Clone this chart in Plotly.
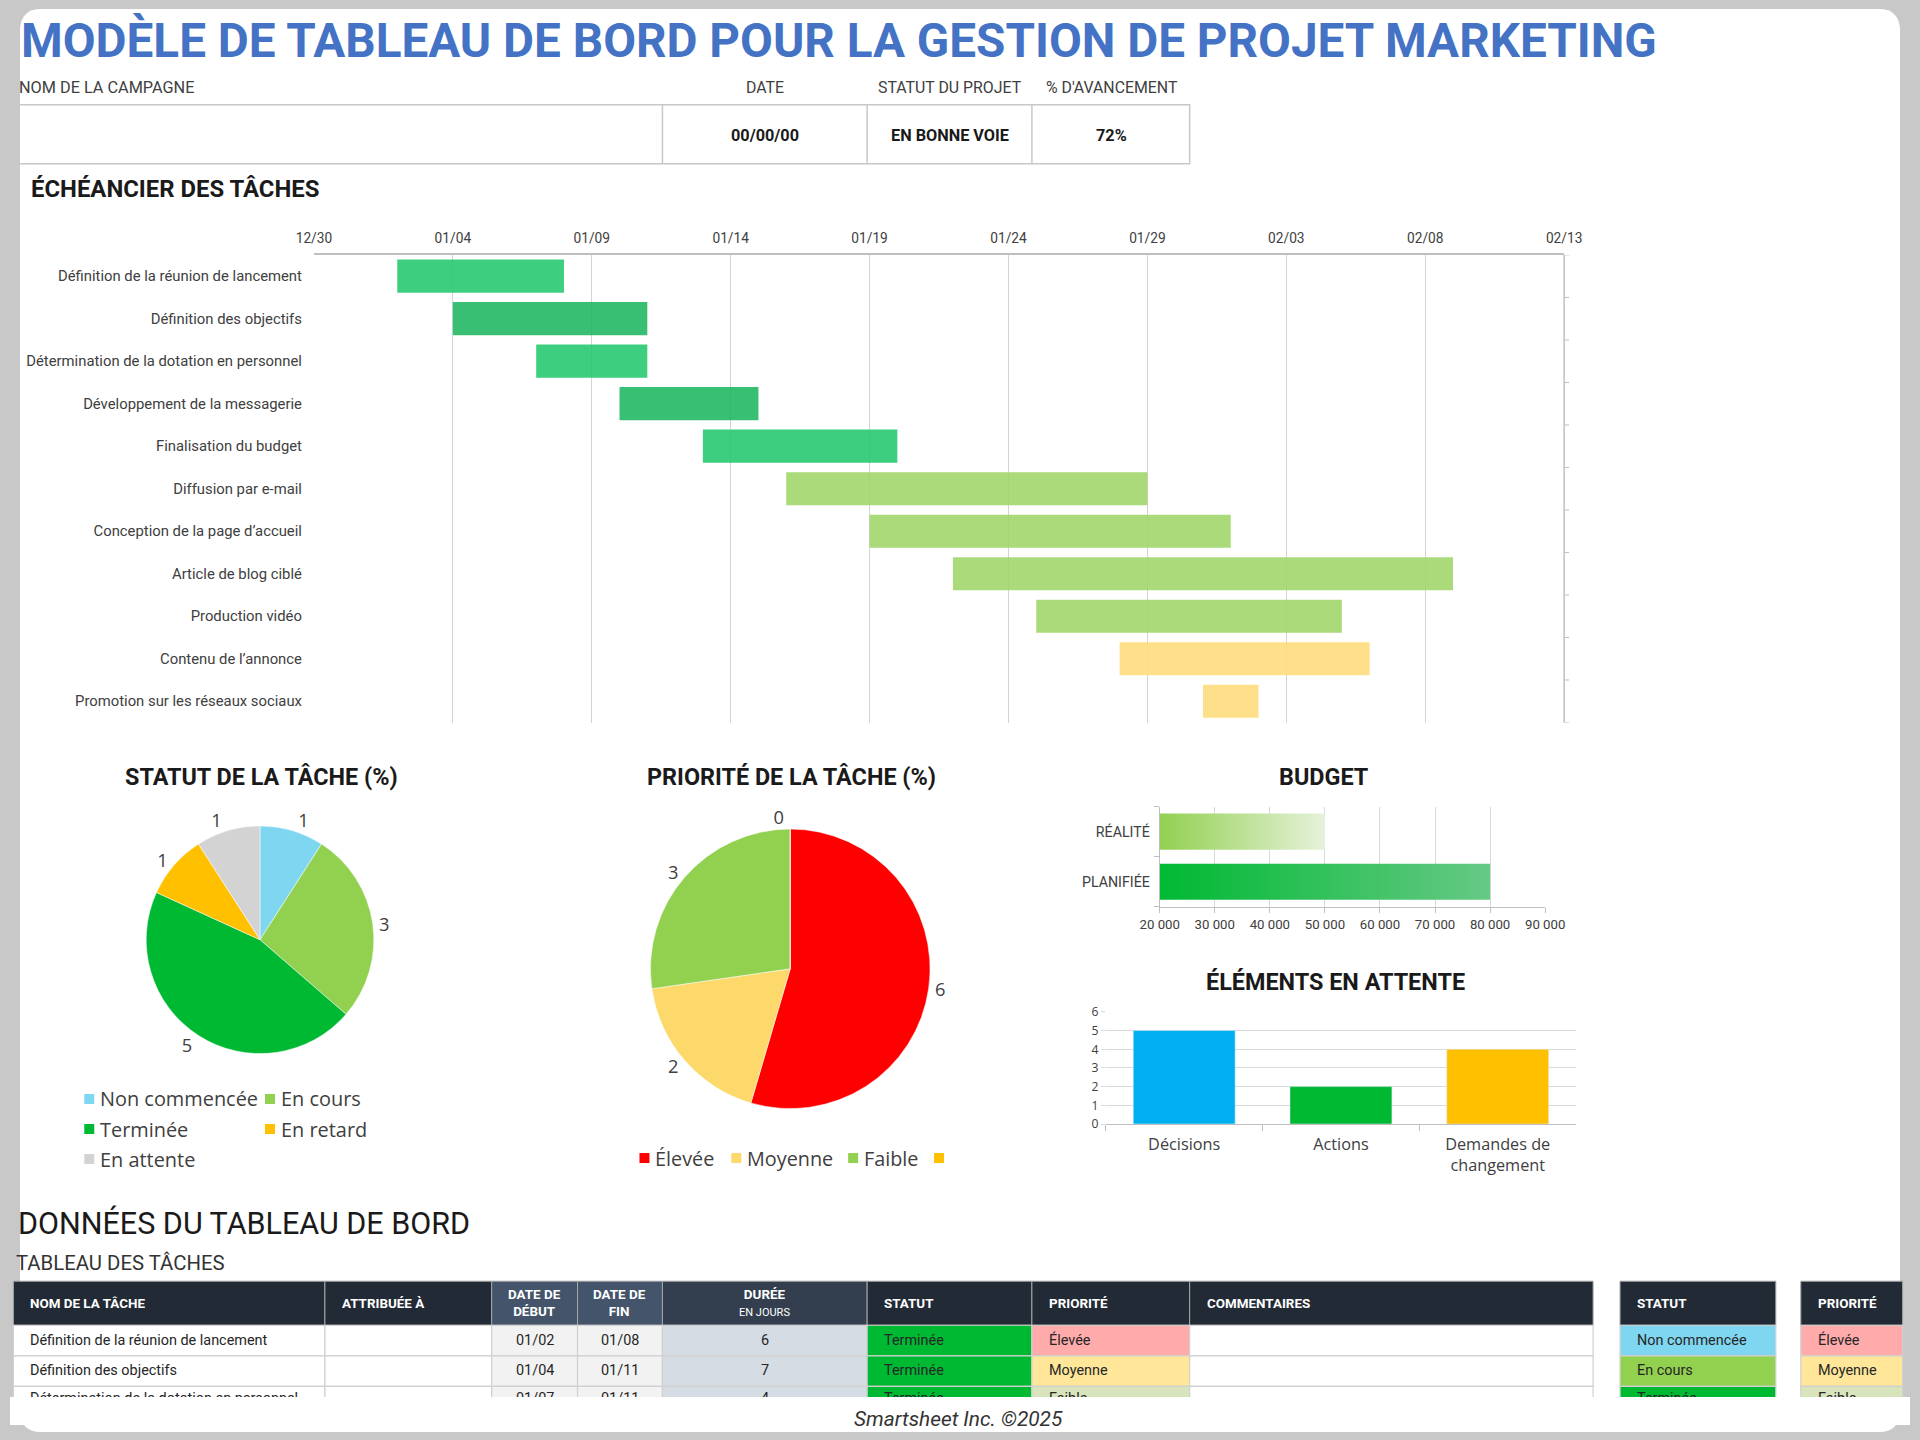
import plotly.graph_objects as go
import pandas as pd

W, H = 1920, 1440
# layout helpers: reference-pixel coordinates -> paper fractions
KX, KY = 1.0198, 1.0132          # small compensation for the page capture margin
KF = (KX + KY) / 2
def px(x): return (W / 2 + (x - W / 2) * KX) / W
def py(y): return 1 - (H / 2 + (y - H / 2) * KY) / H
def fs(v): return round(v * KF, 2)

FC = "Roboto"
FW = "Open Sans"
DARK = "#1a1a1a"
GREY_TXT = "#404040"
FRAME = "#C8C8C8"

# ---------------- data ----------------
TITLE = "MODÈLE DE TABLEAU DE BORD POUR LA GESTION DE PROJET MARKETING"
header_labels = ["NOM DE LA CAMPAGNE", "DATE", "STATUT DU PROJET", "% D'AVANCEMENT"]
header_values = ["", "00/00/00", "EN BONNE VOIE", "72%"]

tasks = [
    "Définition de la réunion de lancement",
    "Définition des objectifs",
    "Détermination de la dotation en personnel",
    "Développement de la messagerie",
    "Finalisation du budget",
    "Diffusion par e-mail",
    "Conception de la page d’accueil",
    "Article de blog ciblé",
    "Production vidéo",
    "Contenu de l’annonce",
    "Promotion sur les réseaux sociaux",
]
start_dates = ["2025-01-02", "2025-01-04", "2025-01-07", "2025-01-10", "2025-01-13", "2025-01-16",
               "2025-01-19", "2025-01-22", "2025-01-25", "2025-01-28", "2025-01-31"]
end_dates = ["2025-01-08", "2025-01-11", "2025-01-11", "2025-01-15", "2025-01-20", "2025-01-29",
             "2025-02-01", "2025-02-09", "2025-02-05", "2025-02-06", "2025-02-02"]
timeline_range = ["2024-12-30", "2025-02-13"]

status_labels = ["Non commencée", "En cours", "Terminée", "En retard", "En attente"]
status_counts = [1, 3, 5, 1, 1]

priority_labels = ["Élevée", "Moyenne", "Faible", ""]
priority_counts = [6, 2, 3, 0]

budget_labels = ["RÉALITÉ", "PLANIFIÉE"]
budget_values = [50000, 80000]

pending_labels = ["Décisions", "Actions", "Demandes de<br>changement"]
pending_values = [5, 2, 4]

table_headers = ["<b>NOM DE LA TÂCHE</b>", "<b>ATTRIBUÉE À</b>", "<b>DATE DE<br>DÉBUT</b>",
                 "<b>DATE DE<br>FIN</b>", "<b>DURÉE</b><br><span style='font-size:11px'>EN JOURS</span>",
                 "<b>STATUT</b>", "<b>PRIORITÉ</b>", "<b>COMMENTAIRES</b>"]
table_rows = 3
table_assigned = ["", "", ""]
table_status = ["Terminée", "Terminée", "Terminée"]
table_priority = ["Élevée", "Moyenne", "Faible"]
table_comments = ["", "", ""]
key_status = ["Non commencée", "En cours", "Terminée"]
key_priority = ["Élevée", "Moyenne", "Faible"]

# ---------------- styles ----------------
gantt_colors = ["rgba(35,199,109,0.88)", "rgba(29,182,97,0.88)", "rgba(35,199,109,0.88)",
                "rgba(29,182,97,0.88)", "rgba(35,199,109,0.88)",
                "rgba(158,213,102,0.88)", "rgba(158,213,102,0.88)", "rgba(158,213,102,0.88)",
                "rgba(158,213,102,0.88)", "rgba(255,220,122,0.88)", "rgba(255,220,122,0.88)"]
status_colors = ["#7FD6F0", "#92D050", "#00B933", "#FFC000", "#D3D3D3"]
priority_colors = ["#FF0000", "#FDD86A", "#92D050", "#FFC000"]
budget_grad = [["#92D050", "#E6F2DA"], ["#00B933", "#66C985"]]
pending_colors = ["#00B0F0", "#00B933", "#FFC000"]
status_fill = {"Non commencée": "#7FD6F0", "En cours": "#92D050", "Terminée": "#00B933"}
priority_fill = {"Élevée": "#FFABAB", "Moyenne": "#FFE699", "Faible": "#D8E4BC"}

fig = go.Figure()

# ---------------- Gantt ----------------
s = pd.to_datetime(start_dates)
e = pd.to_datetime(end_dates)
dur_ms = [(b - a).total_seconds() * 1000 for a, b in zip(s, e)]
fig.add_trace(go.Bar(
    y=tasks, x=dur_ms, base=start_dates, orientation="h",
    marker=dict(color=gantt_colors, line=dict(width=0)), width=0.78,
    xaxis="x", yaxis="y", hoverinfo="skip", showlegend=False))

# ---------------- Pies ----------------
fig.add_trace(go.Pie(
    labels=status_labels, values=status_counts, sort=False, direction="clockwise", rotation=0,
    marker=dict(colors=status_colors, line=dict(color="white", width=0.5)),
    textinfo="value", textposition="outside",
    textfont=dict(family=FW, size=fs(18), color=GREY_TXT),
    domain=dict(x=[px(145), px(373)], y=[py(1053), py(825)]),
    showlegend=False, hoverinfo="skip"))

fig.add_trace(go.Pie(
    labels=[l if l else " " for l in priority_labels], values=priority_counts, sort=False,
    direction="clockwise", rotation=0,
    marker=dict(colors=priority_colors, line=dict(color="white", width=0.5)),
    textinfo="value", textposition="outside",
    textfont=dict(family=FW, size=fs(18), color=GREY_TXT),
    domain=dict(x=[px(650), px(930)], y=[py(1108), py(828)]),
    showlegend=False, hoverinfo="skip"))

# ---------------- Budget (gradient bars) ----------------
hw = 0.36
for i, (lab, v) in enumerate(zip(budget_labels, budget_values)):
    fig.add_trace(go.Scatter(
        x=[20000, v, v, 20000, 20000], y=[i - hw, i - hw, i + hw, i + hw, i - hw],
        mode="lines", fill="toself", line=dict(width=0),
        fillgradient=dict(type="horizontal",
                          colorscale=[[0, budget_grad[i][0]], [1, budget_grad[i][1]]]),
        xaxis="x2", yaxis="y2", hoverinfo="skip", showlegend=False))

# ---------------- Pending items ----------------
fig.add_trace(go.Bar(
    x=pending_labels, y=pending_values, marker=dict(color=pending_colors), width=0.65,
    xaxis="x3", yaxis="y3", hoverinfo="skip", showlegend=False))

# ---------------- shapes / annotations ----------------
shapes = []
ann = []
def txt(x, y, t, size, color=DARK, family=FC, xa="left", ya="middle", **kw):
    ann.append(dict(x=px(x), y=py(y), xref="paper", yref="paper", text=t, showarrow=False,
                    xanchor=xa, yanchor=ya, font=dict(size=fs(size), color=color, family=family), **kw))

def rect(x0, y0, x1, y1, fill, line="rgba(0,0,0,0)", lw=0, layer="above"):
    shapes.append(dict(type="rect", xref="paper", yref="paper", x0=px(x0), x1=px(x1), y0=py(y1), y1=py(y0),
                       fillcolor=fill, line=dict(color=line, width=lw), layer=layer))

# white rounded card on the grey page (drawn in raw paper space)
fx0, fy0, fx1, fy1, r = 0, 1, 1, 0, 22
rx, ry = r / W, r / H
path = (f"M {fx0 + rx} {fy0} L {fx1 - rx} {fy0} Q {fx1} {fy0} {fx1} {fy0 - ry} "
        f"L {fx1} {fy1 + ry} Q {fx1} {fy1} {fx1 - rx} {fy1} "
        f"L {fx0 + rx} {fy1} Q {fx0} {fy1} {fx0} {fy1 + ry} "
        f"L {fx0} {fy0 - ry} Q {fx0} {fy0} {fx0 + rx} {fy0} Z")
shapes.append(dict(type="path", path=path, xref="paper", yref="paper", fillcolor="white",
                   line=dict(width=0), layer="below"))
# header box
rect(12, 105, 1190, 164, "rgba(0,0,0,0)", "#C8C8C8", 1.5, "below")
for xv in [662, 867, 1032]:
    shapes.append(dict(type="line", xref="paper", yref="paper", x0=px(xv), x1=px(xv), y0=py(164), y1=py(105),
                       line=dict(color="#C8C8C8", width=1.5), layer="below"))
# gantt right axis + boundary ticks
shapes.append(dict(type="line", xref="x domain", yref="y domain", x0=1, x1=1, y0=0, y1=1,
                   line=dict(color="#BFBFBF", width=1.5)))
for i in range(len(tasks) + 1):
    shapes.append(dict(type="line", xref="x domain", yref="y", x0=1, x1=1.004, y0=i - 0.5, y1=i - 0.5,
                       line=dict(color="#BFBFBF", width=1)))
# legends
leg1_pos = [(88, 1098), (269, 1098), (88, 1128), (269, 1128), (88, 1158)]
for (lx, ly), c, lab in zip(leg1_pos, status_colors, status_labels):
    rect(lx - 5, ly - 5, lx + 5, ly + 5, c)
    txt(lx + 9, ly, lab, 19.6, color=GREY_TXT, family=FW)
leg2_pos = [(644, 1157), (736, 1157), (853, 1157), (939, 1157)]
for (lx, ly), c, lab in zip(leg2_pos, priority_colors, priority_labels):
    rect(lx - 5, ly - 5, lx + 5, ly + 5, c)
    if lab:
        txt(lx + 9, ly, lab, 19.5, color=GREY_TXT, family=FW)

# texts
txt(18, 41, f"<b>{TITLE}</b>", 46.9, color="#4472C4")
txt(16, 88, header_labels[0], 16, color=GREY_TXT)
for xc, lab, val in zip([765, 950, 1112], header_labels[1:], header_values[1:]):
    txt(xc, 88, lab, 15.6, color=GREY_TXT, xa="center")
    txt(xc, 136, f"<b>{val}</b>", 16, color=DARK, xa="center")
txt(28, 189, "<b>ÉCHÉANCIER DES TÂCHES</b>", 23.5)
txt(260, 776, "<b>STATUT DE LA TÂCHE (%)</b>", 23, xa="center")
txt(791, 776, "<b>PRIORITÉ DE LA TÂCHE (%)</b>", 23, xa="center")
txt(1325, 776, "<b>BUDGET</b>", 23, xa="center")
txt(1336, 981, "<b>ÉLÉMENTS EN ATTENTE</b>", 23, xa="center")
txt(15, 1222, "DONNÉES DU TABLEAU DE BORD", 30, color=DARK)
txt(13, 1262, "TABLEAU DES TÂCHES", 20, color="#333333")

# ---------------- tables (cells drawn as shapes, text as annotations) ----------------
n = table_rows
t_start = [d.strftime("%m/%d") for d in s[:n]]
t_end = [d.strftime("%m/%d") for d in e[:n]]
t_dur = [str(int(round(m / 86400000))) for m in dur_ms[:n]]
col_edges = [12, 324, 491, 577, 662, 867, 1032, 1190, 1594]
col_align = ["left", "left", "center", "center", "center", "left", "left", "left"]
hdr_fill = ["#222A35", "#222A35", "#44546A", "#44546A", "#333F4F", "#222A35", "#222A35", "#222A35"]
col_values = [tasks[:n], table_assigned, t_start, t_end, t_dur, table_status, table_priority, table_comments]
col_fill = [["white"] * n, ["white"] * n, ["#F2F2F2"] * n, ["#F2F2F2"] * n, ["#D6DCE4"] * n,
            [status_fill[x] for x in table_status], [priority_fill[x] for x in table_priority], ["white"] * n]
HY0, HY1, RH = 1280, 1324, 30.5

def draw_table(edges, headers, aligns, hfills, values, fills):
    for j in range(len(headers)):
        xa, xb = edges[j], edges[j + 1]
        rect(xa, HY0, xb, HY1, hfills[j], "#A6A6A6", 1)
        tx = xa + 15 if aligns[j] == "left" else (xa + xb) / 2
        anchor = "left" if aligns[j] == "left" else "center"
        txt(tx, (HY0 + HY1) / 2, headers[j], 13.2, color="white", xa=anchor)
        for k in range(len(values[j])):
            ya = HY1 + k * RH
            rect(xa, ya, xb, ya + RH, fills[j][k], "#D0D0D0", 1.2)
            if values[j][k]:
                cy = ya + RH / 2 - 0.5 if k < 2 else ya + 12
                txt(tx, cy, values[j][k], 14.2, color="#262626", xa=anchor)

draw_table(col_edges, table_headers, col_align, hdr_fill, col_values, col_fill)
draw_table([1621, 1777], ["<b>STATUT</b>"], ["left"], ["#222A35"], [key_status],
           [[status_fill[x] for x in key_status]])
draw_table([1802, 1904], ["<b>PRIORITÉ</b>"], ["left"], ["#222A35"], [key_priority],
           [[priority_fill[x] for x in key_priority]])

# cover clipping the table like the reference viewport
ann.append(dict(x=px(960), y=py(1396), xref="paper", yref="paper", text=" ", showarrow=False,
                xanchor="center", yanchor="top", width=1900, height=28, bgcolor="white",
                borderpad=0, borderwidth=0))
txt(958, 1418, "<i>Smartsheet Inc. ©2025</i>", 20.5, color="#333333", xa="center")

axis_font = dict(family=FC, size=fs(13.5), color=GREY_TXT)
fig.update_layout(
    width=W, height=H, margin=dict(l=0, r=0, t=0, b=0),
    paper_bgcolor=FRAME, plot_bgcolor="rgba(0,0,0,0)",
    separators=", ", bargap=0.2, showlegend=False,
    shapes=shapes, annotations=ann,
    xaxis=dict(domain=[px(313), px(1565)], anchor="y", type="date", side="top",
               range=timeline_range, tick0=timeline_range[0], dtick=5 * 86400000, tickformat="%m/%d",
               showgrid=True, gridcolor="#D4D4D4", gridwidth=1, showline=True, linecolor="#BFBFBF",
               linewidth=1.5, ticks="", tickfont=axis_font, ticklabelstandoff=5,
               zeroline=False, fixedrange=True),
    yaxis=dict(domain=[py(722), py(255)], anchor="x", type="category", categoryorder="array",
               categoryarray=tasks, range=[len(tasks) - 0.5, -0.5], showgrid=False, showline=False,
               ticks="", tickfont=dict(family=FC, size=fs(14.6), color=GREY_TXT), ticklabelstandoff=11,
               zeroline=False, fixedrange=True),
    xaxis2=dict(domain=[px(1160), px(1546)], anchor="y2", range=[20000, 90000], dtick=10000,
                tickformat=",d", showgrid=True, gridcolor="#D9D9D9", showline=True, linecolor="#BFBFBF",
                ticks="outside", ticklen=5, tickcolor="#BFBFBF",
                tickfont=dict(family=FC, size=fs(13), color=GREY_TXT), zeroline=False, fixedrange=True),
    yaxis2=dict(domain=[py(906), py(806)], anchor="x2", range=[1.5, -0.5], tickvals=[0, 1],
                ticktext=budget_labels, showgrid=False, showline=True, linecolor="#BFBFBF", ticks="",
                minor=dict(tickvals=[-0.5, 0.5, 1.5], ticks="outside", ticklen=5, tickcolor="#BFBFBF"),
                tickfont=dict(family=FC, size=fs(14), color=GREY_TXT), ticklabelstandoff=6,
                zeroline=False, fixedrange=True),
    xaxis3=dict(domain=[px(1106), px(1577)], anchor="y3", showgrid=False, showline=True,
                linecolor="#BFBFBF", ticks="outside", tickson="boundaries", ticklen=6, tickcolor="#BFBFBF",
                tickfont=dict(family=FW, size=fs(16), color=GREY_TXT), ticklabelstandoff=5,
                fixedrange=True),
    yaxis3=dict(domain=[py(1123), py(1011)], anchor="x3", range=[0, 6], dtick=1, showgrid=True,
                gridcolor="#D9D9D9", ticks="outside", ticklen=4, tickcolor="#D9D9D9", zeroline=False,
                tickfont=dict(family=FW, size=fs(12), color=GREY_TXT), fixedrange=True),
)

fig.write_html("out.html", config={"displayModeBar": False},
               post_script="document.documentElement.style.margin='0';document.body.style.margin='0';"
                           "document.documentElement.style.background='#C8C8C8';"
                           "document.body.style.background='#C8C8C8';")
